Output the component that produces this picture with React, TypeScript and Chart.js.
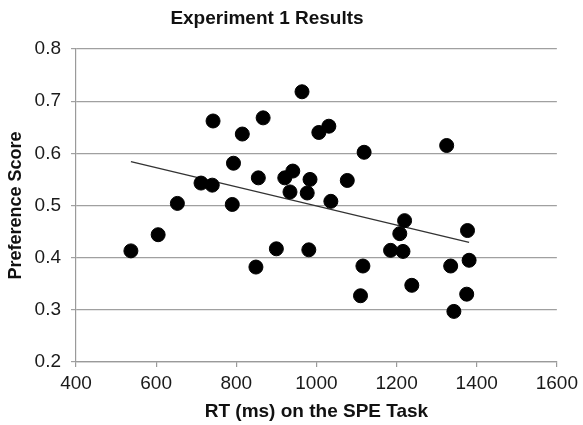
import React, { useEffect, useRef } from "react";
import { Chart, registerables } from "chart.js";

Chart.register(...registerables);

const rtValues = [537, 605, 653, 712, 740, 742, 815, 793, 790, 867, 855, 849, 900, 964, 921, 941, 934, 984, 977, 981, 1006, 1031, 1119, 1077, 1036, 1116, 1110, 1220, 1208, 1185, 1216, 1238, 1325, 1335, 1343, 1375, 1377, 1381];
const prefScores = [0.413, 0.444, 0.504, 0.543, 0.539, 0.662, 0.637, 0.581, 0.502, 0.668, 0.553, 0.382, 0.417, 0.718, 0.553, 0.566, 0.526, 0.550, 0.524, 0.415, 0.640, 0.652, 0.602, 0.548, 0.508, 0.384, 0.327, 0.471, 0.446, 0.414, 0.412, 0.347, 0.615, 0.384, 0.297, 0.330, 0.452, 0.395];
const xTicks = [400, 600, 800, 1000, 1200, 1400, 1600];
const yTicks = [0.2, 0.3, 0.4, 0.5, 0.6, 0.7, 0.8];
const chartTitle = "Experiment 1 Results";
const xTitle = "RT (ms) on the SPE Task";
const yTitle = "Preference Score";

function trendline(xs: number[], ys: number[]) {
  const n = xs.length;
  const mx = xs.reduce((a, b) => a + b, 0) / n;
  const my = ys.reduce((a, b) => a + b, 0) / n;
  let sxy = 0, sxx = 0;
  for (let i = 0; i < n; i++) {
    sxy += (xs[i] - mx) * (ys[i] - my);
    sxx += (xs[i] - mx) * (xs[i] - mx);
  }
  const slope = sxy / sxx;
  const icpt = my - slope * mx;
  const x0 = Math.min(...xs);
  const x1 = Math.max(...xs);
  return [
    { x: x0, y: icpt + slope * x0 },
    { x: x1, y: icpt + slope * x1 },
  ];
}

const FONT = "'Liberation Sans', Arial, Helvetica, sans-serif";

export default function App() {
  const ref = useRef<HTMLCanvasElement | null>(null);
  useEffect(() => {
    if (!ref.current) return;
    const titlePlugin = {
      id: "customTitle",
      afterDraw(chart: any) {
        const ctx = chart.ctx;
        ctx.save();
        ctx.font = `bold 19px ${FONT}`;
        ctx.fillStyle = "#111";
        ctx.textAlign = "center";
        ctx.textBaseline = "middle";
        ctx.fillText(chartTitle, 267, 19);
        ctx.restore();
      },
    };
    const chart = new Chart(ref.current, {
      type: "scatter",
      data: {
        datasets: [
          {
            type: "line",
            data: trendline(rtValues, prefScores),
            borderColor: "#333",
            borderWidth: 1.3,
            pointRadius: 0,
            fill: false,
            order: 2,
          } as any,
          {
            data: rtValues.map((x, i) => ({ x, y: prefScores[i] })),
            backgroundColor: "#000",
            borderColor: "#000",
            pointRadius: 7,
            pointHoverRadius: 7,
            order: 1,
          },
        ],
      },
      options: {
        animation: false,
        responsive: false,
        events: [],
        layout: { padding: { top: 49, right: 24, bottom: 0, left: 0 } },
        plugins: { legend: { display: false }, title: { display: false }, tooltip: { enabled: false } },
        scales: {
          x: {
            type: "linear",
            min: xTicks[0],
            max: xTicks[xTicks.length - 1],
            afterBuildTicks: (s: any) => { s.ticks = xTicks.map((v) => ({ value: v })); },
            afterFit: (s: any) => { s.height = 63; },
            ticks: { font: { size: 19, family: FONT }, color: "#1a1a1a", padding: 5, callback: (v: any) => String(v) },
            grid: { drawOnChartArea: false, color: "#9a9a9a", tickLength: 5, lineWidth: 1.2 },
            border: { color: "#9a9a9a", width: 1.2 },
            title: { display: true, text: xTitle, font: { size: 19, weight: "bold", family: FONT }, color: "#111", padding: { top: 0, bottom: 2 } },
          },
          y: {
            type: "linear",
            min: yTicks[0],
            max: yTicks[yTicks.length - 1],
            afterBuildTicks: (s: any) => { s.ticks = yTicks.map((v) => ({ value: v })); },
            afterFit: (s: any) => { s.width = 76; },
            ticks: { font: { size: 19, family: FONT }, color: "#1a1a1a", padding: 10, callback: (v: any) => Number(v).toFixed(1) },
            grid: { color: "#a0a0a0", tickLength: 5, lineWidth: 1.2 },
            border: { color: "#9a9a9a", width: 1.2 },
            title: { display: true, text: yTitle, font: { size: 18, weight: "bold", family: FONT }, color: "#111", padding: { top: 5, bottom: 0 } },
          },
        },
      },
      plugins: [titlePlugin],
    });
    return () => chart.destroy();
  }, []);
  return (
    <div style={{ position: "fixed", left: 0, top: 0, width: 583, height: 425, background: "#fff" }}>
      <canvas ref={ref} width={583} height={425} style={{ width: 583, height: 425, display: "block" }} />
    </div>
  );
}
